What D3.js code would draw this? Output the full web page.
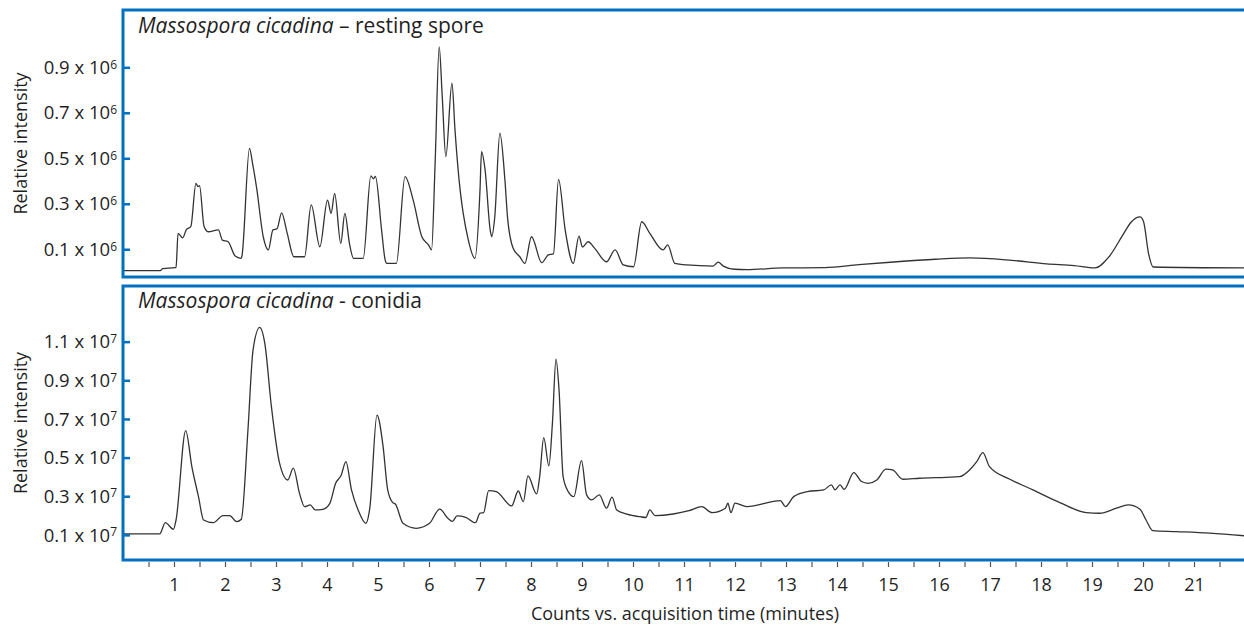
<!DOCTYPE html>
<html><head><meta charset="utf-8">
<script src="https://cdn.jsdelivr.net/npm/d3@7"></script>
<style>
body{margin:0;background:#fff}
svg{display:block}
text{font-family:"Open Sans",sans-serif;fill:#1f1f1f}
</style>
</head><body>
<svg id="c" width="1244" height="630"></svg>
<script>
// ---------- data ----------
const xTickLabels = d3.range(1, 22);            // minutes
const restingYTicks = [0.1, 0.3, 0.5, 0.7, 0.9];  // x 10^6
const conidiaYTicks = [0.1, 0.3, 0.5, 0.7, 0.9, 1.1]; // x 10^7

const restingTime = [0,0.73,0.78,1.02,1.04,1.08,1.17,1.24,1.33,1.43,1.47,1.50,1.59,1.67,1.87,1.95,2.06,2.20,2.31,2.33,2.48,2.54,2.62,2.75,2.85,2.94,3.02,3.11,3.22,3.35,3.56,3.69,3.86,4.01,4.08,4.15,4.27,4.35,4.44,4.52,4.71,4.86,4.91,4.95,5.07,5.14,5.17,5.36,5.53,5.69,5.86,5.99,6.05,6.12,6.20,6.26,6.33,6.45,6.51,6.59,6.77,6.90,7.00,7.03,7.10,7.20,7.23,7.29,7.39,7.49,7.54,7.65,7.78,7.88,8.01,8.21,8.34,8.44,8.54,8.67,8.83,8.94,9.01,9.12,9.25,9.48,9.65,9.81,10.01,10.17,10.33,10.59,10.68,10.82,11.05,11.57,11.67,11.77,11.99,12.23,12.94,13.76,14.43,15.11,15.93,16.61,17.43,18.11,18.65,19.06,19.33,19.60,19.77,19.94,20.01,20.11,20.20,22.0];
const restingIntensity = [0.006,0.006,0.015,0.019,0.02,0.17,0.15,0.185,0.20,0.39,0.375,0.38,0.20,0.177,0.185,0.14,0.133,0.07,0.06,0.067,0.544,0.478,0.37,0.155,0.097,0.185,0.19,0.26,0.17,0.067,0.067,0.295,0.111,0.316,0.258,0.346,0.126,0.258,0.126,0.06,0.06,0.423,0.41,0.42,0.185,0.053,0.038,0.038,0.419,0.316,0.155,0.119,0.097,0.478,0.99,0.77,0.507,0.83,0.624,0.404,0.141,0.06,0.36,0.529,0.448,0.185,0.155,0.243,0.61,0.40,0.24,0.104,0.067,0.038,0.155,0.041,0.075,0.08,0.407,0.185,0.038,0.158,0.11,0.133,0.104,0.045,0.097,0.031,0.023,0.221,0.17,0.097,0.119,0.038,0.031,0.026,0.043,0.026,0.012,0.01,0.018,0.019,0.032,0.044,0.056,0.062,0.051,0.036,0.028,0.018,0.066,0.161,0.22,0.242,0.222,0.08,0.022,0.018];

const conidiaTime = [0,0.72,0.83,0.99,1.04,1.23,1.35,1.48,1.58,1.77,1.96,2.09,2.23,2.32,2.45,2.55,2.68,2.78,2.91,3.07,3.23,3.34,3.46,3.56,3.67,3.77,3.92,4.05,4.17,4.28,4.37,4.48,4.61,4.76,4.84,4.98,5.10,5.19,5.29,5.34,5.49,5.75,6.01,6.21,6.37,6.46,6.55,6.72,6.91,7.00,7.07,7.17,7.32,7.62,7.75,7.85,7.94,8.11,8.17,8.25,8.35,8.42,8.49,8.55,8.63,8.73,8.84,8.99,9.09,9.19,9.34,9.48,9.59,9.68,9.88,10.14,10.25,10.33,10.43,10.79,11.10,11.35,11.55,11.81,11.86,11.92,12.00,12.23,12.89,12.99,13.15,13.42,13.74,13.89,13.96,14.06,14.14,14.33,14.48,14.61,14.78,14.96,15.09,15.29,15.62,16.14,16.40,16.60,16.74,16.86,16.99,17.39,17.84,18.37,18.89,19.15,19.48,19.71,19.94,20.06,20.19,20.66,21.31,22.0];
const conidiaIntensity = [0.105,0.105,0.163,0.129,0.177,0.64,0.453,0.298,0.177,0.163,0.2,0.2,0.169,0.181,0.643,1.057,1.174,1.092,0.764,0.471,0.384,0.445,0.316,0.246,0.255,0.229,0.232,0.26,0.367,0.41,0.479,0.333,0.229,0.16,0.24,0.72,0.557,0.333,0.267,0.26,0.16,0.134,0.16,0.233,0.186,0.17,0.198,0.191,0.163,0.212,0.215,0.329,0.324,0.25,0.327,0.272,0.405,0.312,0.401,0.603,0.457,0.678,1.009,0.85,0.401,0.324,0.298,0.484,0.307,0.281,0.307,0.238,0.295,0.229,0.208,0.194,0.19,0.229,0.2,0.208,0.225,0.246,0.215,0.238,0.264,0.215,0.264,0.246,0.277,0.246,0.298,0.324,0.333,0.359,0.333,0.359,0.336,0.422,0.376,0.367,0.384,0.44,0.436,0.388,0.393,0.398,0.401,0.436,0.479,0.526,0.453,0.388,0.333,0.267,0.215,0.212,0.238,0.255,0.233,0.177,0.122,0.117,0.109,0.095];

// ---------- drawing ----------
const svg = d3.select("#c");
const BLUE = "#0070C0";
const x = d3.scaleLinear().domain([0, 22]).range([123, 1245]);

const panels = [
  {id:"rest", top:10, bottom:277, dom:[-0.022, 1.152], ticks:restingYTicks, exp:"6",
   times:restingTime, vals:restingIntensity,
   italic:"Massospora cicadina", rest:" \u2013 resting spore", titleY:33},
  {id:"con", top:286, bottom:560, dom:[-0.03, 1.388], ticks:conidiaYTicks, exp:"7",
   times:conidiaTime, vals:conidiaIntensity,
   italic:"Massospora cicadina", rest:" - conidia", titleY:308}
];

panels.forEach(p => {
  const y = d3.scaleLinear().domain(p.dom).range([p.bottom, p.top]);
  svg.append("clipPath").attr("id", "clip-" + p.id)
    .append("rect").attr("x", 123).attr("y", p.top).attr("width", 1125).attr("height", p.bottom - p.top);

  const pts = p.times.map((t, i) => [t, p.vals[i]]);
  const line = d3.line().x(d => x(d[0])).y(d => y(d[1])).curve(d3.curveMonotoneX);
  svg.append("path").datum(pts)
    .attr("clip-path", "url(#clip-" + p.id + ")")
    .attr("d", line).attr("fill", "none").attr("stroke", "#333").attr("stroke-width", 1.3)
    .attr("stroke-linejoin", "round");

  // y ticks (blue, inside)
  const ax = svg.append("g").attr("transform", "translate(123,0)")
    .call(d3.axisLeft(y).tickValues(p.ticks).tickSize(-7).tickFormat(""));
  ax.select(".domain").remove();
  ax.selectAll(".tick line").attr("stroke", BLUE).attr("stroke-width", 2.5);

  // y tick labels
  p.ticks.forEach(v => {
    const t = svg.append("text").attr("x", 117).attr("y", y(v)).attr("dy", "0.36em")
      .attr("text-anchor", "end").style("font-size", "18.5px");
    t.append("tspan").text(v.toFixed(1) + " x 10");
    t.append("tspan").attr("dy", "-0.45em").style("font-size", "12px").text(p.exp);
  });

  // border
  svg.append("rect").attr("x", 123).attr("y", p.top).attr("width", 1125).attr("height", p.bottom - p.top)
    .attr("fill", "none").attr("stroke", BLUE).attr("stroke-width", 3);

  // panel title
  const tt = svg.append("text").attr("x", 138).attr("y", p.titleY).style("font-size", "21px");
  tt.append("tspan").style("font-style", "italic").text(p.italic);
  tt.append("tspan").text(p.rest);

  // y axis title
  const cy = (p.top + p.bottom) / 2;
  svg.append("text").attr("transform", `translate(27,${cy}) rotate(-90)`)
    .attr("text-anchor", "middle").style("font-size", "18px").text("Relative intensity");
});

// x axis
const xa = svg.append("g").attr("transform", "translate(0,562)")
  .call(d3.axisBottom(x).tickValues(d3.range(0.5, 22, 0.5)).tickSize(5).tickPadding(11)
    .tickFormat(d => xTickLabels.includes(d) ? String(d) : ""));
xa.select(".domain").remove();
xa.selectAll(".tick line").attr("stroke", "#555").attr("stroke-width", 1.2);
xa.selectAll(".tick text").attr("fill", "#1f1f1f").style("font-size", "18px").style("font-family", "'Open Sans',sans-serif");

svg.append("text").attr("x", 685).attr("y", 620).attr("text-anchor", "middle")
  .style("font-size", "18px").text("Counts vs. acquisition time (minutes)");
</script>
</body></html>
